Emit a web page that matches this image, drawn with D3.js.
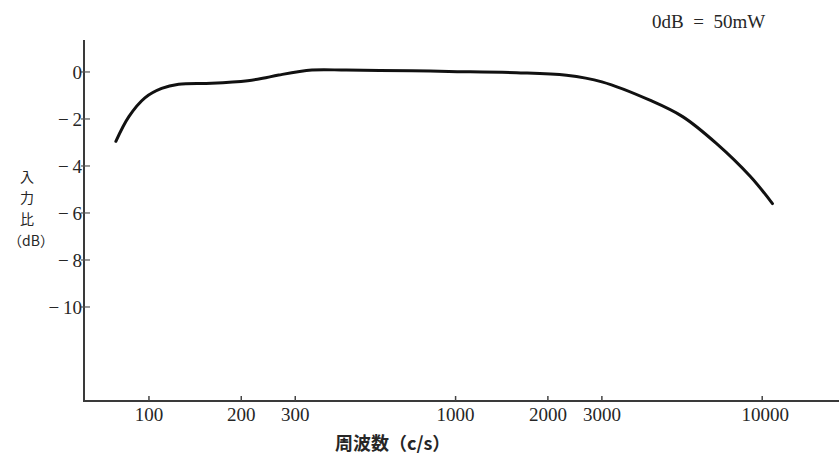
<!DOCTYPE html>
<html>
<head>
<meta charset="utf-8">
<script src="https://cdn.jsdelivr.net/npm/d3@7"></script>
<style>
  html, body { margin: 0; padding: 0; background: #fff; }
  svg { display: block; }
  .tick-label { font-family: "Liberation Serif", "DejaVu Serif", serif; font-size: 19px; fill: #262626; }
  .jp { font-family: "Noto Sans CJK JP", sans-serif; fill: #262626; }
</style>
</head>
<body>
<div id="chart"></div>
<script>
/* 周波数特性 — 入力比 (dB) vs 周波数 (c/s) */
const freqs = [78, 86, 97, 110, 125, 160, 210, 235, 265, 340, 440, 720, 950, 1580, 2300, 3000, 4300, 5500, 7100, 9150, 10800];
const gainDb = [-2.95, -1.9, -1.1, -0.7, -0.52, -0.48, -0.37, -0.27, -0.13, 0.08, 0.08, 0.05, 0.02, -0.03, -0.14, -0.42, -1.2, -1.9, -3.05, -4.45, -5.6];
const xTicks = [100, 200, 300, 1000, 2000, 3000, 10000];
const yTicks = [0, -2, -4, -6, -8, -10];

const W = 839, H = 455;
const padL = 84, padT = 40, axisY = 401;

const svg = d3.select('#chart').append('svg').attr('width', W).attr('height', H);

const x = d3.scaleLog().domain([61.4, 17800]).range([padL, W]);
const y = d3.scaleLinear().domain([-14, 1.36]).range([axisY, padT]);

/* axes */
svg.append('line').attr('x1', padL).attr('x2', padL).attr('y1', padT).attr('y2', axisY)
  .attr('stroke', '#3a3a3a').attr('stroke-width', 2);
svg.append('line').attr('x1', padL - 1).attr('x2', W).attr('y1', axisY).attr('y2', axisY)
  .attr('stroke', '#3a3a3a').attr('stroke-width', 2);

/* y ticks */
yTicks.forEach(v => {
  svg.append('line').attr('x1', padL - 3).attr('x2', padL + 6).attr('y1', y(v)).attr('y2', y(v))
    .attr('stroke', '#555').attr('stroke-width', 1.2);
  svg.append('text').attr('class', 'tick-label').attr('x', padL - 2).attr('y', y(v)).attr('dy', '0.35em')
    .attr('text-anchor', 'end').text(v === 0 ? '0' : '\u2212\u2009' + Math.abs(v));
});

/* x ticks */
xTicks.forEach(v => {
  svg.append('line').attr('x1', x(v)).attr('x2', x(v)).attr('y1', axisY).attr('y2', axisY - 5)
    .attr('stroke', '#444').attr('stroke-width', 1.5);
  svg.append('text').attr('class', 'tick-label').attr('x', x(v) + (v === 10000 ? 3 : 0)).attr('y', axisY + 20)
    .attr('text-anchor', 'middle').text(v);
});

/* curve */
const pts = freqs.map((f, i) => [x(f), y(gainDb[i])]);
svg.append('path').datum(pts)
  .attr('d', d3.line().curve(d3.curveCatmullRom.alpha(0.5)))
  .attr('fill', 'none').attr('stroke', '#111').attr('stroke-width', 3)
  .attr('stroke-linecap', 'round');

/* labels */
svg.append('text').attr('class', 'jp').attr('x', 335).attr('y', 450)
  .attr('font-size', 18).attr('font-weight', 'bold').text('周波数（c/s）');

const yl = svg.append('g').attr('class', 'jp').attr('font-size', 14).attr('text-anchor', 'middle');
[['入', 182], ['力', 203], ['比', 224]].forEach(([t, yy]) => yl.append('text').attr('x', 27).attr('y', yy).text(t));
yl.append('text').attr('x', 31).attr('y', 246).text('（dB）');

svg.append('text').attr('class', 'tick-label').attr('x', 652).attr('y', 28).attr('font-size', 18)
  .text('0dB\u00a0\u00a0=\u00a0\u00a050mW');
</script>
</body>
</html>
